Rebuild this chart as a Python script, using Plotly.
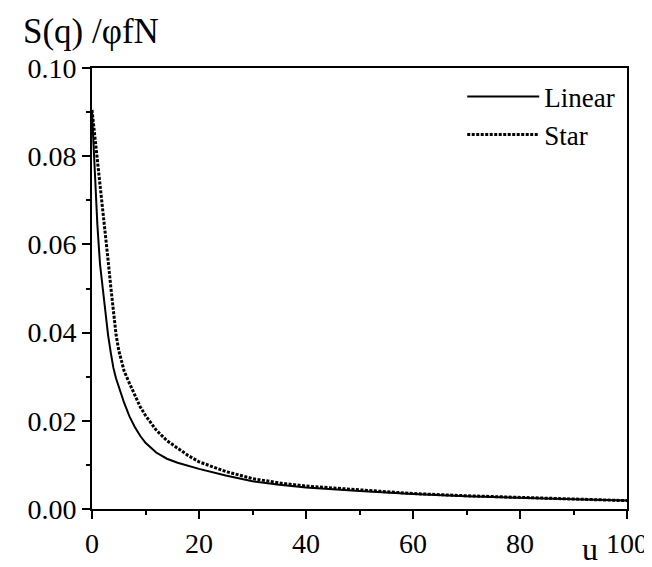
import plotly.graph_objects as go

u_vals = [0, 0.5, 1, 1.5, 2, 2.5, 3, 3.5, 4, 4.5, 5, 5.5, 6, 7, 8, 9, 10, 12, 14, 16, 18, 20,
          25, 30, 35, 40, 50, 60, 70, 80, 90, 100]
linear_vals = [0.0900, 0.0770, 0.0645, 0.0555, 0.0500, 0.0445, 0.0395, 0.0355, 0.0320, 0.0296,
               0.0276, 0.0258, 0.0241, 0.0210, 0.0186, 0.0166, 0.0150, 0.0128, 0.0114, 0.0105,
               0.0098, 0.0091, 0.0076, 0.0063, 0.0055, 0.0049, 0.0041, 0.0034, 0.0029, 0.0025,
               0.0022, 0.0019]
star_vals = [0.0905, 0.0850, 0.0795, 0.0740, 0.0685, 0.0625, 0.0565, 0.0505, 0.0448, 0.0395,
             0.0360, 0.0333, 0.0313, 0.0285, 0.0260, 0.0232, 0.0212, 0.0179, 0.0155, 0.0137,
             0.0121, 0.0107, 0.0085, 0.0069, 0.0059, 0.0052, 0.0044, 0.0035, 0.0030, 0.0026,
             0.0022, 0.0019]

series_names = ["Linear", "Star"]
y_title = "S(q) /φfN"
x_title = "u"

FONT = "Liberation Serif, Times New Roman, serif"

fig = go.Figure()
fig.add_trace(go.Scatter(x=u_vals, y=linear_vals, mode="lines", name=series_names[0],
                         line=dict(color="black", width=2)))
fig.add_trace(go.Scatter(x=u_vals, y=star_vals, mode="lines", name=series_names[1],
                         line=dict(color="black", width=3, dash="3px,1.5px")))

axis_common = dict(showgrid=False, zeroline=False, showline=True, linecolor="black",
                   linewidth=2, mirror=True, ticks="outside", tickcolor="black",
                   tickwidth=1.5, ticklen=8,
                   tickfont=dict(family=FONT, size=28, color="black"))

fig.update_xaxes(range=[0, 100], tick0=0, dtick=20,
                 minor=dict(dtick=10, ticks="outside", ticklen=4, tickcolor="black", tickwidth=1.5),
                 **axis_common)
fig.update_yaxes(range=[0, 0.1], tick0=0, dtick=0.02, tickformat=".2f",
                 minor=dict(dtick=0.01, ticks="outside", ticklen=4, tickcolor="black", tickwidth=1.5),
                 **axis_common)

fig.update_layout(
    width=652, height=567,
    margin=dict(l=84, r=25, t=60, b=66),
    paper_bgcolor="white", plot_bgcolor="white",
    font=dict(family=FONT, color="black"),
    showlegend=True,
    legend=dict(x=0.692, y=0.99, xanchor="left", yanchor="top",
                bgcolor="rgba(0,0,0,0)", borderwidth=0,
                font=dict(family=FONT, size=27, color="black"),
                itemwidth=72, tracegroupgap=0),
    annotations=[
        dict(text=y_title, xref="paper", yref="paper", x=-0.133, y=1.083,
             xanchor="left", yanchor="middle", showarrow=False,
             font=dict(family=FONT, size=35, color="black")),
        dict(text=x_title, xref="paper", yref="paper", x=0.93, y=-0.133,
             xanchor="center", yanchor="bottom", showarrow=False, borderpad=0,
             font=dict(family=FONT, size=32, color="black")),
    ],
)

fig.write_html("out.html")
